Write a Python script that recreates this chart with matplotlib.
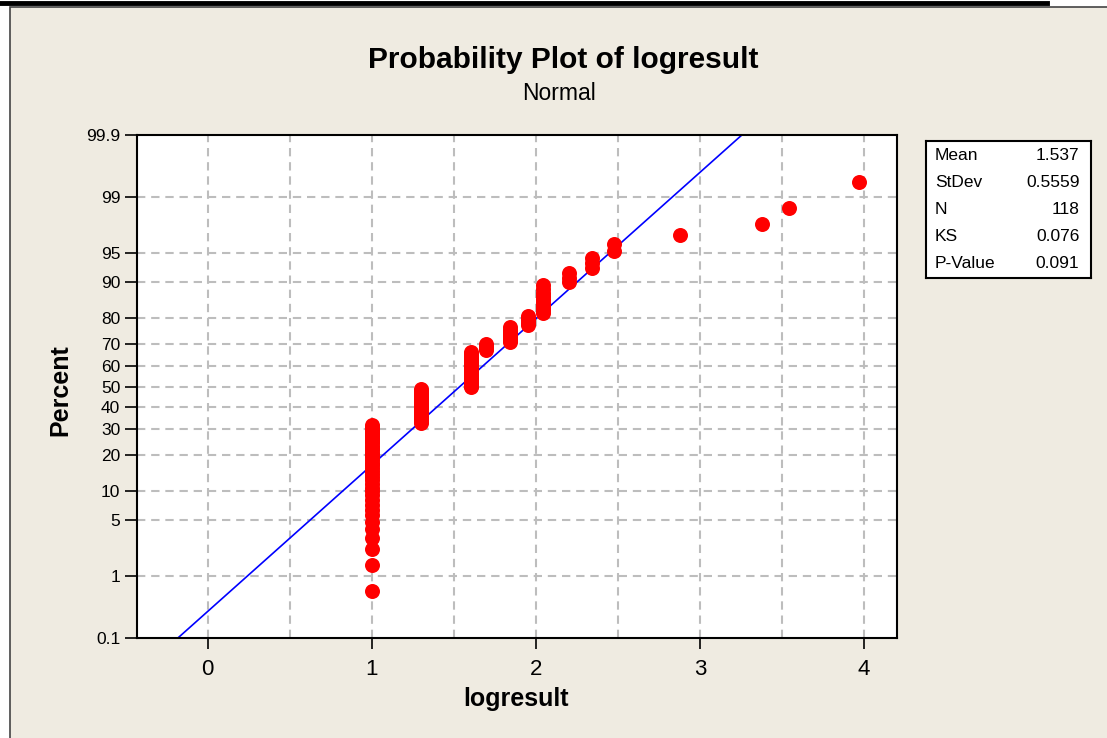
import numpy as np
import matplotlib.pyplot as plt
from matplotlib.lines import Line2D
from matplotlib.patches import Rectangle
from statistics import NormalDist

plt.rcParams['font.family'] = ['Liberation Sans', 'DejaVu Sans']

# distinct logresult values and the number of observations at each
values = [1.0, 1.30103, 1.60206, 1.69897, 1.845098, 1.954243, 2.041393,
          2.20412, 2.342423, 2.477121, 2.875061, 3.380211, 3.544068, 3.968483]
counts = [38, 20, 21, 4, 8, 5, 10, 3, 3, 2, 1, 1, 1, 1]

# summary shown in the side table
mean = 1.537
stdev = 0.5559
n_obs = 118
ks = 0.076
p_value = 0.091

pct_ticks = [0.1, 1, 5, 10, 20, 30, 40, 50, 60, 70, 80, 90, 95, 99, 99.9]
pct_labels = ['0.1', '1', '5', '10', '20', '30', '40', '50', '60', '70',
              '80', '90', '95', '99', '99.9']
x_ticks = [0, 1, 2, 3, 4]

nd = NormalDist()
zq = np.vectorize(nd.inv_cdf)

x = np.sort(np.repeat(values, counts))
n = len(x)
rank = np.arange(1, n + 1)
pos = (rank - 0.3) / (n + 0.4)          # Benard median ranks
z = zq(pos)

bg = '#efebe1'
W, H = 1107, 738
fig = plt.figure(figsize=(W / 100, H / 100), dpi=100, facecolor='white')

# page panel + borders (kept behind the axes)
fig.patches.append(Rectangle((10 / W, -0.05), 1.0, 1.05 - 7 / H, transform=fig.transFigure,
                             facecolor=bg, edgecolor='#444444', lw=1.2, zorder=-10))
fig.lines.append(Line2D([0, 1047 / W], [1 - 3 / H, 1 - 3 / H], transform=fig.transFigure,
                        color='black', lw=3.5, zorder=-5))

ax = fig.add_axes([137 / W, 1 - 638 / H, 760 / W, 503 / H])
ax.set_facecolor('white')
ax.set_xlim(-0.43, 4.2)
ax.set_ylim(nd.inv_cdf(0.001), nd.inv_cdf(0.999))

grid_kw = dict(color='#bdbdbd', lw=1.5, linestyle=(0, (4, 2.8)), zorder=1)
for gx in np.arange(0, 4.01, 0.5):
    ax.axvline(gx, **grid_kw)
for p in pct_ticks[1:-1]:
    ax.axhline(nd.inv_cdf(p / 100), **grid_kw)

# fitted normal line from the stated mean / stdev
pl = np.array([0.001, 0.999])
zl = zq(pl)
ax.plot(mean + stdev * zl, zl, color='#0000ff', lw=1.2, zorder=2)

ax.plot(x, z, 'o', color='#ff0000', ms=10.8, mec='none', zorder=3)

ax.set_xticks(x_ticks)
ax.set_xticklabels([str(t) for t in x_ticks], fontsize=16)
ax.set_yticks(zq(np.array(pct_ticks) / 100))
ax.set_yticklabels(pct_labels, fontsize=12.5)
ax.tick_params(axis='x', length=8, width=1.2, pad=7)
ax.tick_params(axis='y', length=9, width=1.2, pad=3)
for s in ax.spines.values():
    s.set_linewidth(1.5)

fig.text(563 / W, 1 - 60 / H, 'Probability Plot of logresult', ha='center', va='center',
         fontsize=21.5, fontweight='bold')
fig.text(559 / W, 1 - 94 / H, 'Normal', ha='center', va='center', fontsize=16.5)
fig.text(60 / W, 1 - 390 / H, 'Percent', ha='center', va='center', rotation=90,
         fontsize=18, fontweight='bold')
fig.text(516 / W, 1 - 699 / H, 'logresult', ha='center', va='center',
         fontsize=18, fontweight='bold')

# stats table
tb = fig.add_axes([926 / W, 1 - 278 / H, 165 / W, 137 / H])
tb.set_xticks([])
tb.set_yticks([])
tb.set_facecolor('white')
for s in tb.spines.values():
    s.set_linewidth(1.5)
rows = [('Mean', f'{mean:.3f}'), ('StDev', f'{stdev:.4f}'), ('N', f'{n_obs}'),
        ('KS', f'{ks:.3f}'), ('P-Value', f'{p_value:.3f}')]
for k, (name, val) in enumerate(rows):
    yy = 1 - (k + 0.55) / 5.1
    tb.text(0.055, yy, name, transform=tb.transAxes, ha='left', va='center', fontsize=12.5)
    tb.text(0.93, yy, val, transform=tb.transAxes, ha='right', va='center', fontsize=12.5)

fig.savefig('out.png', dpi=100, facecolor=fig.get_facecolor())
